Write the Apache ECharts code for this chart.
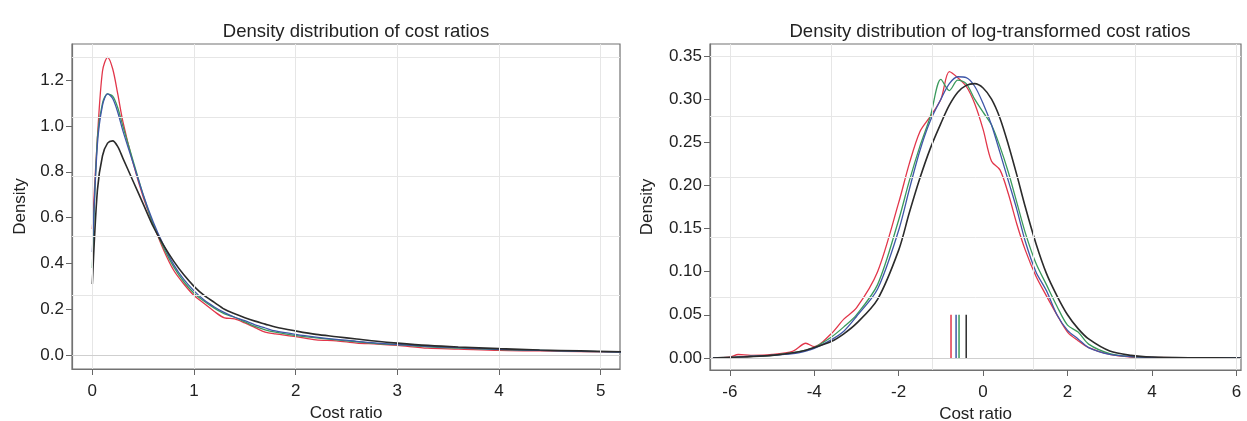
<!DOCTYPE html>
<html>
<head>
<meta charset="utf-8">
<script src="https://cdn.jsdelivr.net/npm/echarts@6/dist/echarts.min.js"></script>
<style>
  html, body { margin: 0; padding: 0; background: #fff; }
  #chart { width: 1247px; height: 421px; }
</style>
</head>
<body>
<div id="chart"></div>
<script>
  // left panel: cost ratio densities
  var crX     = [0, 0.05, 0.1, 0.15, 0.2, 0.25, 0.3, 0.4, 0.5, 0.6, 0.7, 0.8, 0.9, 1.0, 1.1, 1.2, 1.3, 1.4, 1.5, 1.6, 1.7, 1.8, 2.0, 2.2, 2.4, 2.6, 2.8, 3.0, 3.3, 3.6, 4.0, 4.4, 4.8, 5.2];
  var crRed   = [0.55, 0.95, 1.24, 1.30, 1.25, 1.14, 1.02, 0.84, 0.69, 0.57, 0.46, 0.37, 0.31, 0.26, 0.225, 0.19, 0.162, 0.158, 0.14, 0.12, 0.10, 0.092, 0.08, 0.066, 0.062, 0.052, 0.048, 0.042, 0.03, 0.026, 0.02, 0.018, 0.015, 0.012];
  var crGreen = [0.38, 0.95, 1.10, 1.14, 1.13, 1.08, 1.00, 0.85, 0.70, 0.57, 0.47, 0.385, 0.32, 0.27, 0.235, 0.205, 0.18, 0.165, 0.145, 0.125, 0.11, 0.10, 0.085, 0.075, 0.066, 0.058, 0.05, 0.045, 0.036, 0.03, 0.024, 0.02, 0.016, 0.013];
  var crBlue  = [0.45, 0.92, 1.09, 1.14, 1.12, 1.06, 0.98, 0.84, 0.70, 0.58, 0.48, 0.395, 0.33, 0.28, 0.24, 0.21, 0.185, 0.165, 0.15, 0.132, 0.118, 0.105, 0.09, 0.078, 0.068, 0.06, 0.052, 0.046, 0.038, 0.032, 0.025, 0.02, 0.016, 0.013];
  var crBlack = [0.31, 0.72, 0.87, 0.925, 0.935, 0.91, 0.86, 0.76, 0.66, 0.56, 0.48, 0.41, 0.35, 0.30, 0.26, 0.23, 0.20, 0.18, 0.163, 0.148, 0.135, 0.122, 0.105, 0.09, 0.08, 0.07, 0.06, 0.052, 0.042, 0.035, 0.028, 0.022, 0.018, 0.014];

  // right panel: log-transformed cost ratio densities
  var logX     = [-6.4, -6, -5.8, -5.5, -5, -4.5, -4.2, -4, -3.6, -3.3, -3, -2.5, -2, -1.75, -1.5, -1.25, -1, -0.8, -0.6, -0.4, -0.2, 0, 0.2, 0.4, 0.6, 0.8, 1, 1.25, 1.5, 1.75, 2, 2.25, 2.5, 3, 3.5, 4, 5, 6.1];
  var logRed   = [0, 0.001, 0.004, 0.003, 0.004, 0.008, 0.017, 0.013, 0.028, 0.045, 0.058, 0.10, 0.18, 0.225, 0.262, 0.28, 0.30, 0.332, 0.325, 0.315, 0.295, 0.265, 0.228, 0.218, 0.19, 0.155, 0.125, 0.095, 0.072, 0.05, 0.03, 0.02, 0.012, 0.004, 0.001, 0.0005, 0.0002, 0];
  var logGreen = [0, 0.0005, 0.001, 0.002, 0.003, 0.006, 0.009, 0.012, 0.024, 0.036, 0.05, 0.085, 0.16, 0.205, 0.245, 0.28, 0.323, 0.31, 0.322, 0.318, 0.30, 0.285, 0.27, 0.245, 0.215, 0.18, 0.145, 0.11, 0.085, 0.06, 0.038, 0.03, 0.016, 0.005, 0.0015, 0.0005, 0.0002, 0];
  var logBlue  = [0, 0.0005, 0.001, 0.002, 0.003, 0.005, 0.008, 0.011, 0.021, 0.031, 0.048, 0.08, 0.148, 0.195, 0.24, 0.275, 0.30, 0.318, 0.326, 0.325, 0.315, 0.295, 0.27, 0.238, 0.205, 0.172, 0.135, 0.10, 0.078, 0.05, 0.032, 0.022, 0.012, 0.004, 0.0015, 0.0005, 0.0002, 0];
  var logBlack = [0, 0.0007, 0.001, 0.0015, 0.003, 0.006, 0.009, 0.012, 0.019, 0.028, 0.04, 0.068, 0.125, 0.168, 0.208, 0.243, 0.272, 0.293, 0.308, 0.316, 0.318, 0.313, 0.30, 0.278, 0.247, 0.212, 0.175, 0.133, 0.098, 0.072, 0.05, 0.034, 0.022, 0.008, 0.003, 0.001, 0.0002, 0];
  // short vertical marks (red, green, blue, black)
  var logMedian = [-0.76, -0.57, -0.64, -0.40];
  var markHeight = [0, 0.05];

  // tick labels
  var crXTicks  = [0, 1, 2, 3, 4, 5];
  var crYTicks  = [0, 0.2, 0.4, 0.6, 0.8, 1.0, 1.2];
  var logXTicks = [-6, -4, -2, 0, 2, 4, 6];
  var logYTicks = [0, 0.05, 0.1, 0.15, 0.2, 0.25, 0.3, 0.35];
  // background grid lines
  var crXGrid  = [0, 1, 2, 3, 4, 5];
  var crYGrid  = [0.26, 0.52, 0.78, 1.04, 1.3];
  var logXGrid = [-6, -3.6, -1.2, 1.2, 3.6, 6];
  var logYGrid = [0.07, 0.14, 0.21, 0.28, 0.35];

  var colors = ['#e2364a', '#3a9a5c', '#3f57a8', '#2b2b2b'];
  var font = '"Liberation Sans", Arial, sans-serif';
  var frame = '#727272';

  function zip(xs, ys) {
    return xs.map(function (x, i) { return [x, ys[i]]; });
  }

  function curve(xs, ys, k, idx) {
    return {
      type: 'line', xAxisIndex: idx, yAxisIndex: idx,
      data: zip(xs, ys), showSymbol: false, symbol: 'none',
      smooth: 0.3, z: 3,
      lineStyle: { color: colors[k], width: k === 3 ? 1.6 : 1.3 }
    };
  }

  function gridLines(idx, xs, ys) {
    var gl = { color: '#e6e6e6', width: 1, type: 'solid' };
    var data = xs.map(function (v) { return { xAxis: v, lineStyle: gl }; })
      .concat(ys.map(function (v) { return { yAxis: v, lineStyle: gl }; }))
      .concat([{ yAxis: 0, lineStyle: { color: '#cfcfcf', width: 1.2, type: 'solid' } }]);
    return {
      type: 'line', xAxisIndex: idx, yAxisIndex: idx, data: [], z: 1,
      markLine: { silent: true, symbol: ['none', 'none'], label: { show: false }, animation: false, data: data }
    };
  }

  function xAx(idx, min, max, ticks) {
    return {
      type: 'value', gridIndex: idx, min: min, max: max,
      name: 'Cost ratio', nameLocation: 'middle', nameGap: 31,
      nameTextStyle: { fontFamily: font, fontSize: 17, color: '#222' },
      axisLine: { show: true, onZero: false, lineStyle: { color: frame, width: 1.2 } },
      axisTick: { show: true, customValues: ticks, length: 6, lineStyle: { color: '#666' } },
      axisLabel: { customValues: ticks, margin: 14, fontFamily: font, fontSize: 17, color: '#222' },
      splitLine: { show: false }
    };
  }

  function yAx(idx, min, max, ticks, digits, gap) {
    return {
      type: 'value', gridIndex: idx, min: min, max: max,
      name: 'Density', nameLocation: 'middle', nameGap: gap,
      nameTextStyle: { fontFamily: font, fontSize: 17, color: '#222' },
      axisLine: { show: true, onZero: false, lineStyle: { color: frame, width: 1.2 } },
      axisTick: { show: true, customValues: ticks, length: 6, lineStyle: { color: '#666' } },
      axisLabel: {
        customValues: ticks, margin: 8, fontFamily: font, fontSize: 17, color: '#222',
        formatter: function (v) { return v.toFixed(digits); }
      },
      splitLine: { show: false }
    };
  }

  var myChart = echarts.init(document.getElementById('chart'));
  var option = {
    backgroundColor: '#fff',
    animation: false,
    title: [
      { text: 'Density distribution of cost ratios', left: 351, top: 17, textAlign: 'center',
        textStyle: { fontFamily: font, fontSize: 18.5, fontWeight: 'normal', color: '#222' } },
      { text: 'Density distribution of log-transformed cost ratios', left: 985, top: 17, textAlign: 'center',
        textStyle: { fontFamily: font, fontSize: 18.5, fontWeight: 'normal', color: '#222' } }
    ],
    grid: [
      { left: 72, top: 44, width: 548, height: 325, show: true, borderColor: frame, borderWidth: 1.2,
        backgroundColor: 'transparent', outerBoundsMode: 'none', containLabel: false },
      { left: 710, top: 44, width: 531, height: 326, show: true, borderColor: frame, borderWidth: 1.2,
        backgroundColor: 'transparent', outerBoundsMode: 'none', containLabel: false }
    ],
    xAxis: [
      xAx(0, -0.2, 5.19, crXTicks),
      xAx(1, -6.47, 6.11, logXTicks)
    ],
    yAxis: [
      yAx(0, -0.061, 1.358, crYTicks, 1, 43),
      yAx(1, -0.014, 0.364, logYTicks, 2, 54)
    ],
    series: [
      gridLines(0, crXGrid, crYGrid),
      gridLines(1, logXGrid, logYGrid),
      curve(crX, crRed, 0, 0),
      curve(crX, crGreen, 1, 0),
      curve(crX, crBlue, 2, 0),
      curve(crX, crBlack, 3, 0),
      curve(logX, logRed, 0, 1),
      curve(logX, logGreen, 1, 1),
      curve(logX, logBlue, 2, 1),
      curve(logX, logBlack, 3, 1)
    ].concat(logMedian.map(function (m, k) {
      return {
        type: 'line', xAxisIndex: 1, yAxisIndex: 1, symbol: 'none', z: 4,
        data: markHeight.map(function (h) { return [m, h]; }),
        lineStyle: { color: colors[k], width: 1.5 }
      };
    }))
  };
  if (option && typeof option === 'object') {
    myChart.setOption(option, true);
  }
</script>
</body>
</html>
